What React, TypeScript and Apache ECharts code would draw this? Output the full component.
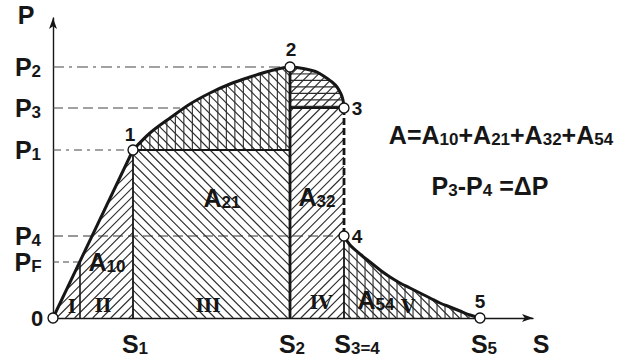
import React, { useEffect, useRef } from "react";
import * as echarts from "echarts";

// ---- values (S to the right, P upward; state 0 at the origin) ----
const compression01: number[][] = [[0, 0], [80, 168]];
const curve12: number[][] = [[80, 168], [97, 185], [117, 200], [137, 214], [157, 225], [177, 234], [197, 241], [217, 247], [237, 251]];
const curve23: number[][] = [[237, 251], [247, 250], [257, 248], [264, 246], [272, 241], [279, 236], [284, 231], [288, 224], [290, 218], [291, 210]];
const drop34: number[][] = [[291, 210], [291, 82]];
const expansion45: number[][] = [[291, 82], [297, 73], [307, 64], [317, 56], [327, 48], [337, 41], [347, 35], [357, 30], [367, 25], [377, 20], [387, 15], [397, 11], [407, 7], [417, 3], [427, 0]];

const sValues = [80, 237, 291, 427]; // S1, S2, S3=4, S5
const sNames = [["S", "1"], ["S", "2"], ["S", "3=4"], ["S", "5"]];
const pValues = [251, 210, 168, 82, 56]; // P2, P3, P1, P4, PF
const pNames = [["P", "2"], ["P", "3"], ["P", "1"], ["P", "4"], ["P", "F"]];
const sAtPF = 27;
const stateIds = ["1", "2", "3", "4", "5"];
const areaNames = [["A", "10"], ["A", "21"], ["A", "32"], ["A", "54"]];
const stageNames = ["I", "II", "III", "IV", "V"];

// ---- derived ----
const [S1, S2, S34, S5] = sValues;
const [P2, P3, P1, P4, PF] = pValues;
const statePoints = [[0, 0], [S1, P1], [S2, P2], [S34, P3], [S34, P4], [S5, 0]];

// ---- layout (data units) ----
const areaAnchors = [[54, 56], [169, 120], [264, 121], [323, 18]];
const stageAnchors = [[19, 12], [50, 13], [155, 13], [268, 16], [355, 12]];
const sLabelShift = [2, 2, 13, 4];
const stateLabelOffsets = [[-3, -16], [1, -18], [13, 0], [13, 0], [0, -17]]; // px
const INK = "#161616";
const SANS = "'Liberation Sans', Arial, sans-serif";
const SERIF = "'DejaVu Serif', serif";

const sub = (pair: string[]) => `{m|${pair[0]}}{s|${pair[1]}}`;

const richBig = {
  m: { fontSize: 25, fontFamily: SANS, fontWeight: "bold", fill: INK, verticalAlign: "bottom" },
  s: { fontSize: 17, fontFamily: SANS, fontWeight: "bold", fill: INK, verticalAlign: "bottom" },
};

function hatchSegments(poly: number[][], angleDeg: number, gap: number, phase = 0.37) {
  const a = (angleDeg * Math.PI) / 180;
  const ux = Math.cos(a), uy = Math.sin(a);
  const nx = -uy, ny = ux;
  const proj = poly.map((p) => p[0] * nx + p[1] * ny);
  const lo = Math.min(...proj), hi = Math.max(...proj);
  const segs: number[][][] = [];
  for (let c = (Math.ceil(lo / gap - phase) + phase) * gap; c <= hi; c += gap) {
    const hits: number[][] = [];
    for (let i = 0; i < poly.length; i++) {
      const j = (i + 1) % poly.length;
      const fp = proj[i] - c, fq = proj[j] - c;
      if ((fp < 0) !== (fq < 0)) {
        const t = fp / (fp - fq);
        const x = poly[i][0] + t * (poly[j][0] - poly[i][0]);
        const y = poly[i][1] + t * (poly[j][1] - poly[i][1]);
        hits.push([x, y, x * ux + y * uy]);
      }
    }
    hits.sort((m, n) => m[2] - n[2]);
    for (let k = 0; k + 1 < hits.length; k += 2) segs.push([hits[k], hits[k + 1]]);
  }
  return segs;
}

const DIAG = 6.4;
const hatchRegions = [
  { poly: [[0, 0], [S1, P1], [S1, 0]], hatch: [{ angle: -45, gap: DIAG }] },
  { poly: [[S1, 0], [S1, P1], [S2, P1], [S2, 0]], hatch: [{ angle: 45, gap: DIAG }] },
  { poly: [...curve12, [S2, P1]], hatch: [{ angle: 90, gap: 8.5 }, { angle: 45, gap: DIAG }] },
  { poly: [[S2, 0], [S2, P3], [S34, P3], [S34, 0]], hatch: [{ angle: -45, gap: DIAG }] },
  { poly: [...curve23, [S2, P3]], hatch: [{ angle: 0, gap: 6.5 }, { angle: -45, gap: DIAG }] },
  { poly: [[S34, 0], ...expansion45], hatch: [{ angle: 90, gap: 8 }, { angle: 45, gap: DIAG }] },
];

type Lbl = { x: number; y: number; dx?: number; dy?: number; text: string; kind: "big" | "state" | "stage" | "zero" };
const labels: Lbl[] = [
  ...sValues.map((s, i) => ({ x: s + sLabelShift[i], y: -26, text: sub(sNames[i]), kind: "big" as const })),
  { x: 488, y: -26, text: "{m|S}", kind: "big" },
  ...pValues.map((p, i) => ({ x: -25, y: p, text: sub(pNames[i]), kind: "big" as const })),
  { x: -27, y: 303, text: "{m|P}", kind: "big" },
  { x: -16, y: 0, text: "0", kind: "zero" },
  ...areaNames.map((n, i) => ({ x: areaAnchors[i][0], y: areaAnchors[i][1], text: sub(n), kind: "big" as const })),
  ...stageNames.map((n, i) => ({ x: stageAnchors[i][0], y: stageAnchors[i][1], text: n, kind: "stage" as const })),
  ...stateIds.map((n, i) => ({
    x: statePoints[i + 1][0], y: statePoints[i + 1][1],
    dx: stateLabelOffsets[i][0], dy: stateLabelOffsets[i][1], text: n, kind: "state" as const,
  })),
];

const refLine = (pts: number[][], width: number, type: any = "solid", color = INK) => ({
  type: "line",
  data: pts,
  symbol: "none",
  silent: true,
  z: 3,
  lineStyle: { color, width, type },
});

export default function App() {
  const ref = useRef<HTMLDivElement>(null);
  useEffect(() => {
    if (!ref.current) return;
    const chart = echarts.init(ref.current, null, { renderer: "svg" });
    const axisCommon = {
      type: "value",
      axisTick: { show: false },
      axisLabel: { show: false },
      splitLine: { show: false },
      axisLine: { show: true, onZero: false, symbol: ["none", "arrow"], symbolSize: [6, 11], lineStyle: { color: INK, width: 1.4 } },
    };
    chart.setOption({
      animation: false,
      backgroundColor: "#ffffff",
      grid: { left: 53, top: 18, width: 480, height: 300 },
      xAxis: { ...axisCommon, min: 0, max: 480 },
      yAxis: { ...axisCommon, min: 0, max: 300 },
      graphic: [
        {
          type: "text", x: 501, y: 135, z: 100,
          style: {
            text: `{m|A=}${sub(areaNames[0])}{m|+}${sub(areaNames[1])}{m|+}${sub(areaNames[2])}{m|+}${sub(areaNames[3])}`,
            rich: richBig, fill: INK, align: "center", verticalAlign: "middle", textAlign: "center", textVerticalAlign: "middle",
          },
        },
        {
          type: "text", x: 490, y: 186, z: 100,
          style: {
            text: `${sub(pNames[1])}{m|-}${sub(pNames[3])}{m| =ΔP}`,
            rich: richBig, fill: INK, align: "center", verticalAlign: "middle", textAlign: "center", textVerticalAlign: "middle",
          },
        },
      ],
      series: [
        {
          type: "custom",
          z: 1,
          silent: true,
          data: [[0, 0]],
          renderItem: (_p: any, api: any) => {
            const children: any[] = [];
            for (const r of hatchRegions) {
              const px = r.poly.map((p) => api.coord(p));
              for (const h of r.hatch) {
                for (const [a, b] of hatchSegments(px, h.angle, h.gap)) {
                  children.push({
                    type: "line",
                    shape: { x1: a[0], y1: a[1], x2: b[0], y2: b[1] },
                    style: { stroke: "#2b2b2b", lineWidth: 1.1 },
                  });
                }
              }
            }
            return { type: "group", children };
          },
        },
        // auxiliary dashed levels
        refLine([[0, P2], [S2, P2]], 1.1, [11, 5, 3, 5], "#444"),
        refLine([[0, P3], [127, P3]], 1.1, [10, 5], "#444"),
        refLine([[0, P1], [S1, P1]], 1.1, [8, 5, 3, 5], "#444"),
        refLine([[0, P4], [S34, P4]], 1.2, [10, 5], "#333"),
        refLine([[0, PF], [sAtPF, PF]], 1.1, [6, 4], "#444"),
        // solid boundaries
        refLine([[sAtPF, 0], [sAtPF, PF]], 1.6),
        refLine([[S1, 0], [S1, P1]], 1.8),
        refLine([[S2, 0], [S2, P2]], 2.8),
        refLine([[S1, P1], [S2, P1]], 2),
        refLine([[S2, P3], [S34, P3]], 2.2),
        refLine([[S34, 0], [S34, P4]], 1.8),
        // process curve
        { type: "line", data: compression01, symbol: "none", z: 5, silent: true, lineStyle: { color: INK, width: 3 } },
        { type: "line", data: [...curve12, ...curve23.slice(1)], smooth: 0.3, symbol: "none", z: 5, silent: true, lineStyle: { color: INK, width: 3 } },
        { type: "line", data: drop34, symbol: "none", z: 5, silent: true, lineStyle: { color: INK, width: 2.8, type: [7, 3] } },
        { type: "line", data: expansion45, smooth: 0.3, symbol: "none", z: 5, silent: true, lineStyle: { color: INK, width: 3 } },
        {
          type: "scatter",
          data: statePoints,
          symbol: "circle",
          symbolSize: 10,
          z: 6,
          silent: true,
          itemStyle: { color: "#ffffff", borderColor: INK, borderWidth: 1.4, opacity: 1 },
        },
        {
          type: "custom",
          z: 10,
          silent: true,
          data: labels.map((l, i) => [l.x, l.y, i]),
          renderItem: (params: any, api: any) => {
            const l = labels[params.dataIndex];
            const p = api.coord([l.x, l.y]);
            const base: any = { fill: INK, align: "center", verticalAlign: "middle", text: l.text };
            if (l.kind === "big") {
              base.rich = richBig;
            } else if (l.kind === "stage") {
              base.fontFamily = SERIF; base.fontWeight = "bold"; base.fontSize = 18;
            } else if (l.kind === "zero") {
              base.fontFamily = SANS; base.fontWeight = "bold"; base.fontSize = 22;
            } else {
              base.fontFamily = SANS; base.fontWeight = "bold"; base.fontSize = 19;
            }
            return { type: "text", x: p[0] + (l.dx || 0), y: p[1] + (l.dy || 0), style: base };
          },
        },
      ],
    });
    return () => chart.dispose();
  }, []);
  return <div ref={ref} style={{ position: "absolute", left: 0, top: 0, width: 619, height: 360 }} />;
}
